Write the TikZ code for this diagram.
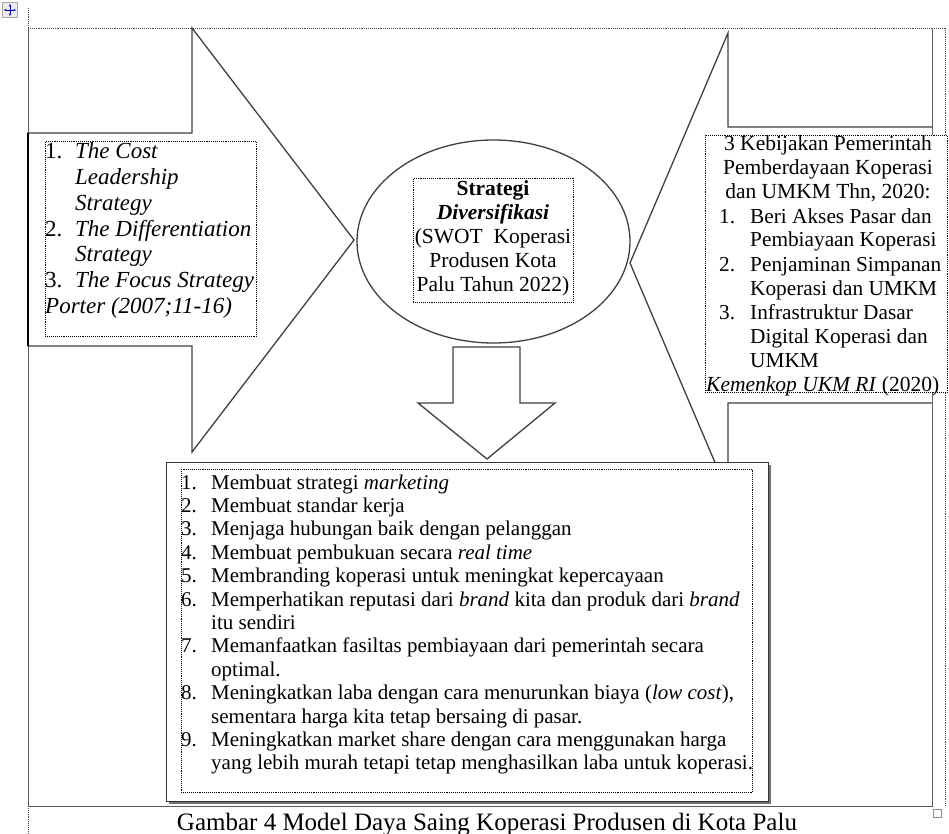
\documentclass[tikz,border=0pt]{standalone}
\usepackage{fontspec}
\setmainfont{Liberation Serif}
\usetikzlibrary{shapes.geometric,arrows.meta}

\begin{document}
\begin{tikzpicture}[x=1pt, y=-1pt,
  garis/.style={draw=black!75, line width=1.3pt, line join=miter, fill=white},
  kotaktitik/.style={draw=black, densely dotted, line width=0.9pt, fill=white, inner sep=0pt},
  gridtabel/.style={draw=black!70, densely dotted, line width=0.9pt},
  teks/.style={inner sep=0pt, anchor=base west}]

\useasboundingbox (0,0) rectangle (949,834);

% garis tabel
\draw[gridtabel] (28,8) -- (28,834);
\draw[gridtabel] (28,28) -- (945,28);
\draw[gridtabel] (945,28) -- (945,806);

% gagang tabel
\node[draw=black!35, fill=black!8, minimum size=15, inner sep=0pt] (pindah) at (10,10) {};
\draw[blue!70!black, line width=0.8pt, {Stealth[length=3pt]}-{Stealth[length=3pt]}]
  ([xshift=1.5pt]pindah.west) -- ([xshift=-1.5pt]pindah.east);
\draw[blue!70!black, line width=0.8pt, {Stealth[length=3pt]}-{Stealth[length=3pt]}]
  ([yshift=-1.5pt]pindah.north) -- ([yshift=1.5pt]pindah.south);

% bingkai
\draw[draw=black!65, line width=1pt] (28,28) -- (28,806) -- (932,806) -- (932,28);

% panah kiri
\draw[garis] (28,133) -- (192,133) -- (192,28) -- (354,240) -- (192,452) -- (192,346) -- (28,346) -- cycle;
\draw[line width=2.2pt] (28,133) -- (28,346);

% panah kanan
\draw[garis] (932,127) -- (728,127) -- (728,33) -- (630,263) -- (728,493) -- (728,403) -- (932,403);

% elips tengah
\node[ellipse, draw=black!75, line width=1.3pt, fill=white, minimum width=273, minimum height=203] (elips) at (493.5,241.5) {};

% panah bawah
\draw[garis] (453,347) -- (520,347) -- (520,403) -- (555,403) -- (487,459) -- (418,403) -- (453,403) -- cycle;

% kotak kiri
\node[kotaktitik, minimum width=211, minimum height=195, anchor=north west] (kotakKiri) at (45,141) {};
\node[teks, font=\fontsize{23}{25.7}\selectfont] (teksKiri) at (45,159) {%
  \begin{tabular}[t]{@{}p{30pt}@{}l@{}}
  1. & \textit{The Cost}\\
     & \textit{Leadership}\\
     & \textit{Strategy}\\
  2. & \textit{The Differentiation}\\
     & \textit{Strategy}\\
  3. & \textit{The Focus Strategy}\\
  \multicolumn{2}{@{}l@{}}{\textit{Porter (2007;11-16)}}
  \end{tabular}};

% kotak tengah
\node[kotaktitik, minimum width=160, minimum height=124, anchor=north west] (kotakTengah) at (413,178) {};
\node[inner sep=0pt, anchor=base, font=\fontsize{21.5}{23.8}\selectfont] (teksTengah) at (493,196) {%
  \begin{tabular}[t]{@{}c@{}}
  \textbf{Strategi}\\
  \textbf{\textit{Diversifikasi}}\\
  (SWOT\ \ Koperasi\\
  Produsen Kota\\
  Palu Tahun 2022)
  \end{tabular}};

% kotak kanan
\node[kotaktitik, minimum width=242, minimum height=257, anchor=north west] (kotakKanan) at (705,135) {};
\node[inner sep=0pt, anchor=base, font=\fontsize{21.5}{24}\selectfont] (judulKanan) at (828,151) {%
  \begin{tabular}[t]{@{}c@{}}
  3 Kebijakan Pemerintah\\
  Pemberdayaan Koperasi\\
  dan UMKM Thn, 2020:
  \end{tabular}};
\node[teks, font=\fontsize{21.3}{24}\selectfont] (listKanan) at (719,223) {%
  \begin{tabular}[t]{@{}p{31pt}@{}l@{}}
  1. & Beri Akses Pasar dan\\
     & Pembiayaan Koperasi\\
  2. & Penjaminan Simpanan\\
     & Koperasi dan UMKM\\
  3. & Infrastruktur Dasar\\
     & Digital Koperasi dan\\
     & UMKM
  \end{tabular}};
\node[teks, font=\fontsize{21.5}{24}\selectfont] (sumberKanan) at (706,391) {\textit{Kemenkop UKM RI} (2020)};

% kotak bawah
\node[fill=black!55, minimum width=602, minimum height=339, inner sep=0pt, anchor=north west] (bayangan) at (168.5,464.5) {};
\node[draw=black!80, line width=1.2pt, fill=white, minimum width=602, minimum height=339, inner sep=0pt, anchor=north west] (kotakBawah) at (166,462) {};
\node[kotaktitik, minimum width=571, minimum height=323, anchor=north west] (kotakDalam) at (181,469) {};
\node[teks, font=\fontsize{21}{23.4}\selectfont] (listBawah) at (181,489) {%
  \begin{tabular}[t]{@{}p{30pt}@{}l@{}}
  1. & Membuat strategi \textit{marketing}\\
  2. & Membuat standar kerja\\
  3. & Menjaga hubungan baik dengan pelanggan\\
  4. & Membuat pembukuan secara \textit{real time}\\
  5. & Membranding koperasi untuk meningkat kepercayaan\\
  6. & Memperhatikan reputasi dari \textit{brand} kita dan produk dari \textit{brand}\\
     & itu sendiri\\
  7. & Memanfaatkan fasiltas pembiayaan dari pemerintah secara\\
     & optimal.\\
  8. & Meningkatkan laba dengan cara menurunkan biaya (\textit{low cost}),\\
     & sementara harga kita tetap bersaing di pasar.\\
  9. & Meningkatkan market share dengan cara menggunakan harga\\
     & yang lebih murah tetapi tetap menghasilkan laba untuk koperasi.
  \end{tabular}};

% gagang ukuran
\node[draw=black!45, fill=white, minimum size=8, inner sep=0pt, anchor=north west] (gagang) at (933,809) {};

% keterangan gambar
\node[inner sep=0pt, anchor=base, font=\fontsize{25}{30}\selectfont] (keterangan) at (487,830) {Gambar 4 Model Daya Saing Koperasi Produsen di Kota Palu};

\end{tikzpicture}
\end{document}
